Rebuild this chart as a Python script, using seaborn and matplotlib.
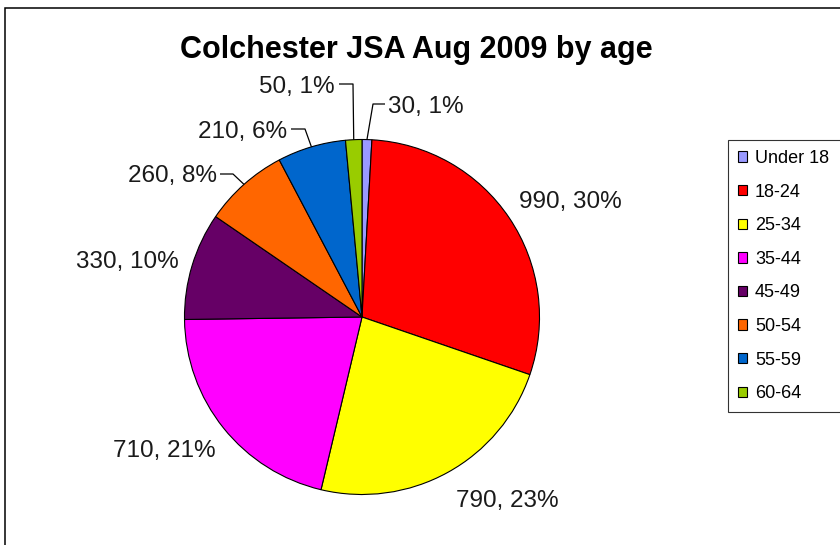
import matplotlib
matplotlib.use("Agg")
import matplotlib.pyplot as plt
import seaborn as sns
from matplotlib.patches import Patch, Rectangle
import numpy as np

# Jobseeker's Allowance claimants, Colchester, August 2009
age_groups = ["Under 18", "18-24", "25-34", "35-44", "45-49", "50-54", "55-59", "60-64"]
claimants = [30, 990, 790, 710, 330, 260, 210, 50]
shares_pct = [1, 30, 23, 21, 10, 8, 6, 1]
slice_colors = ["#9999FF", "#FF0000", "#FFFF00", "#FF00FF",
                "#660066", "#FF6600", "#0066CC", "#99CC00"]

sns.set_theme(style="white", rc={"text.color": "black"})
plt.rcParams["font.family"] = ["Liberation Sans", "DejaVu Sans"]

W, H, DPI = 840, 545, 100
CX, CY, R = 362, 317, 177.5   # pie centre / radius in pixels

fig = plt.figure(figsize=(W / DPI, H / DPI), dpi=DPI)
fig.patch.set_facecolor("white")
ax = fig.add_axes([0, 0, 1, 1])

palette = sns.color_palette(slice_colors)
wedges, _ = ax.pie(claimants, colors=palette, startangle=90, counterclock=False,
                   radius=1, center=(0, 0),
                   wedgeprops=dict(edgecolor="black", linewidth=0.8))
ax.set_xlim(-CX / R, (W - CX) / R)
ax.set_ylim((CY - H) / R, CY / R)
ax.set_aspect("auto")
ax.axis("off")


def px(x, y):
    """Pixel position (from top-left) to data coordinates."""
    return (x - CX) / R, (CY - y) / R


# label anchor (x, baseline y), alignment, and optional leader (start, elbow)
label_layout = [
    dict(at=(388, 113), ha="left", lead=((385, 104), (373, 104))),
    dict(at=(570, 208), ha="center", lead=None),
    dict(at=(507, 507), ha="center", lead=None),
    dict(at=(164, 457), ha="center", lead=None),
    dict(at=(127, 268), ha="center", lead=None),
    dict(at=(217, 182), ha="right", lead=((220, 174), (233, 174))),
    dict(at=(287, 138), ha="right", lead=((291, 129), (305, 129))),
    dict(at=(335, 93), ha="right", lead=((339, 84), (353, 84))),
]

for w, n, pct, lay in zip(wedges, claimants, shares_pct, label_layout):
    tx, ty = px(*lay["at"])
    ax.text(tx, ty, f"{n}, {pct}%", ha=lay["ha"], va="baseline",
            fontsize=17.5, color="#1a1a1a")
    if lay["lead"] is not None:
        mid = np.deg2rad((w.theta1 + w.theta2) / 2)
        (sx, sy), (ex, ey) = px(*lay["lead"][0]), px(*lay["lead"][1])
        ax.plot([sx, ex, np.cos(mid)], [sy, ey, np.sin(mid)],
                color="black", lw=0.9, solid_capstyle="butt")

fig.text(416 / W, 1 - 58 / H, "Colchester JSA Aug 2009 by age",
         ha="center", va="baseline", fontsize=22, fontweight="bold", color="black")

handles = [Patch(facecolor=c, edgecolor="black", linewidth=0.8) for c in palette]
leg = ax.legend(handles, age_groups, loc="upper left",
                bbox_to_anchor=(728 / W, 1 - 140 / H, 160 / W, 0.0),
                bbox_transform=fig.transFigure, mode="expand", borderaxespad=0,
                fontsize=13, handlelength=0.5, handleheight=0.5,
                handletextpad=0.45, labelspacing=0.92, borderpad=0.55,
                frameon=True, fancybox=False, shadow=False)
leg.get_frame().set_edgecolor("black")
leg.get_frame().set_linewidth(0.8)
leg.get_frame().set_facecolor("white")

# chart area border
fig.add_artist(Rectangle((5 / W, -0.1), 2, (H - 8) / H + 0.1,
                         transform=fig.transFigure, fill=False,
                         edgecolor="black", linewidth=1.1))

fig.savefig("out.png", dpi=DPI)
